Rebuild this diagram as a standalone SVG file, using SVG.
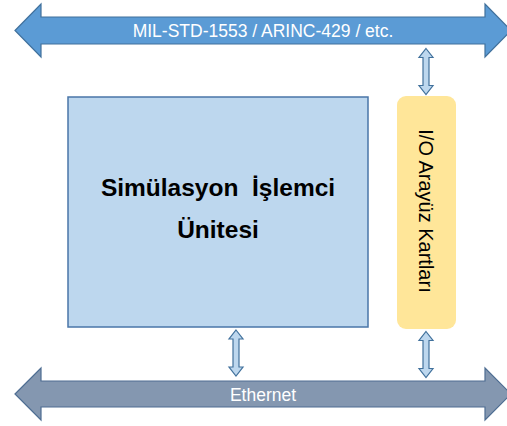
<svg xmlns="http://www.w3.org/2000/svg" xmlns:xlink="http://www.w3.org/1999/xlink" width="507" height="426" viewBox="0 0 507 426">
  <style>
    .bus-top { fill: #5b9bd5; stroke: #41719c; stroke-width: 1.2; }
    .bus-eth { fill: #8497b0; stroke: #4e6d92; stroke-width: 1.2; }
    .link { fill: #bdd7ee; stroke: #41719c; stroke-width: 1.2; }
    .bus-label { font-family: "Liberation Sans", Arial, sans-serif; font-size: 17.5px; fill: #ffffff; text-anchor: middle; }
    .main-label { font-family: "Liberation Sans", Arial, sans-serif; font-size: 24.5px; font-weight: bold; fill: #000000; text-anchor: middle; white-space: pre; }
    .io-label { font-family: "Liberation Sans", Arial, sans-serif; font-size: 20px; fill: #000000; text-anchor: middle; }
  </style>
  <defs>
    <!-- vertical double-headed link arrow, centred on the origin -->
    <path id="dbl" d="M0,-23 L7,-14 L3,-14 L3,14 L7,14 L0,23 L-7,14 L-3,14 L-3,-14 L-7,-14 Z"/>
  </defs>

  <rect width="507" height="426" fill="#ffffff"/>

  <g id="bus-mil">
    <path class="bus-top" d="M15,30.5 L41,4 L41,17 L485,17 L485,4 L511,30.5 L485,57 L485,44 L41,44 L41,57 Z"/>
    <text class="bus-label" x="263" y="37">MIL-STD-1553 / ARINC-429 / etc.</text>
  </g>

  <g id="bus-ethernet">
    <path class="bus-eth" d="M15,394 L41,368 L41,381 L485,381 L485,368 L511,394 L485,420 L485,407 L41,407 L41,420 Z"/>
    <text class="bus-label" x="263" y="400.5">Ethernet</text>
  </g>

  <g id="processor">
    <rect x="68" y="97" width="300" height="230" fill="#bdd7ee" stroke="#4a76a8" stroke-width="1.5"/>
    <text class="main-label" x="218" y="196" xml:space="preserve">Simülasyon  İşlemci</text>
    <text class="main-label" x="218" y="238">Ünitesi</text>
  </g>

  <g id="io-cards">
    <rect x="397" y="96" width="59" height="233" rx="9" ry="9" fill="#ffe699"/>
    <text class="io-label" transform="translate(426,211) rotate(90)" x="0" y="7">I/O Arayüz Kartları</text>
  </g>

  <g id="connectors">
    <use xlink:href="#dbl" class="link" transform="translate(426,71.5)"/>
    <use xlink:href="#dbl" class="link" transform="translate(236,353)"/>
    <use xlink:href="#dbl" class="link" transform="translate(426,354.5)"/>
  </g>
</svg>
